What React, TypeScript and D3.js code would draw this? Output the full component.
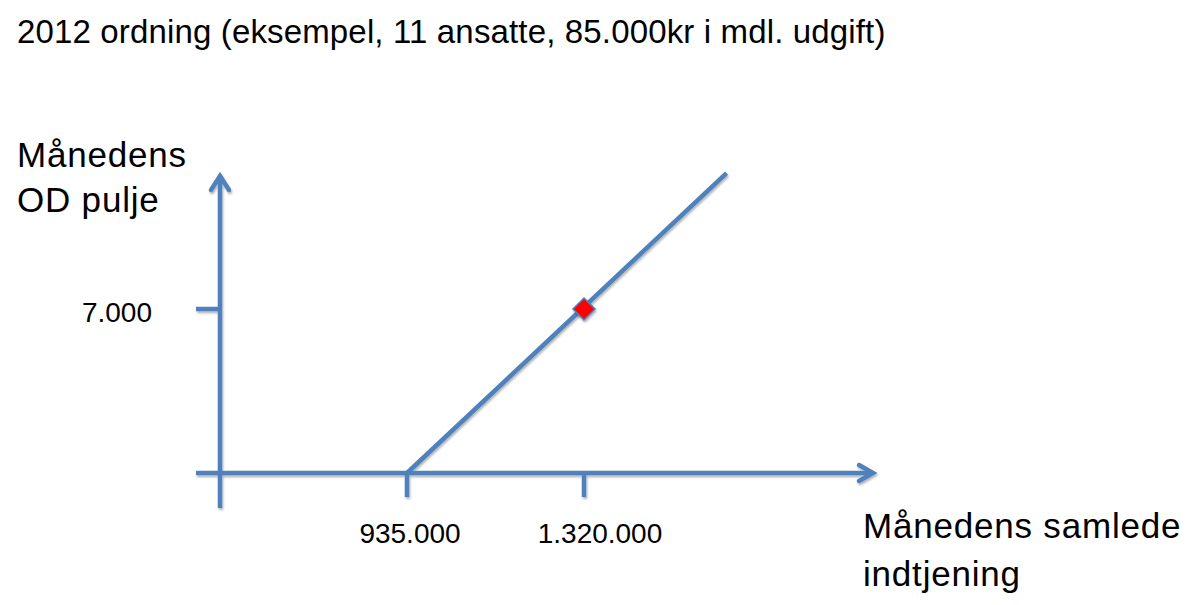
import React from "react";
import * as d3 from "d3";

// ---- data ----
const title = "2012 ordning (eksempel, 11 ansatte, 85.000kr i mdl. udgift)";
const yTitleLines = ["Månedens", "OD pulje"];
const xTitleLines = ["Månedens samlede", "indtjening"];
const xTickValues = [935000, 1320000];
const yTickValues = [7000];
const linePoints: [number, number][] = [
  [935000, 0],
  [1630000, 12800],
];
const markerPoint: [number, number] = [1320000, 7000];

const fmt = (v: number) => d3.format(",")(v).replace(/,/g, ".");

// ---- layout ----
const W = 1196;
const H = 605;
const BLUE = "#4F81BD";
const FONT = "'Liberation Sans', Arial, Helvetica, sans-serif";

export default function App() {
  const x = d3.scaleLinear().domain([935000, 1320000]).range([407, 584]);
  const y = d3.scaleLinear().domain([0, 7000]).range([473, 309]);

  const axisX = 220; // y-axis horizontal position
  const axisY = y(0);
  const xLeft = 196;
  const xRight = 875;
  const yTop = 174;
  const yBottom = 508;
  const tickLen = 24;
  const xTickLabelDx = [3, 16];

  const line = d3
    .line<[number, number]>()
    .x((d) => x(d[0]))
    .y((d) => y(d[1]));

  const mx = x(markerPoint[0]);
  const my = y(markerPoint[1]);
  const r = 11;

  return (
    <svg
      width={W}
      height={H}
      style={{ position: "absolute", left: 0, top: 0, background: "#fff" }}
      fontFamily={FONT}
    >
      <defs>
        <filter id="sh" x="-10%" y="-10%" width="120%" height="120%">
          <feDropShadow dx="1" dy="2" stdDeviation="1.2" floodColor="#000" floodOpacity="0.3" />
        </filter>
      </defs>
      <rect width={W} height={H} fill="#fff" />
      <text x={17} y={43} fontSize={33} letterSpacing={0.15} fill="#000">
        {title}
      </text>

      {yTitleLines.map((t, i) => (
        <text key={t} x={17} y={167 + i * 45} fontSize={35} letterSpacing={0.8} fill="#000">
          {t}
        </text>
      ))}
      {xTitleLines.map((t, i) => (
        <text key={t} x={863} y={538 + i * 48} fontSize={35} letterSpacing={0.8} fill="#000">
          {t}
        </text>
      ))}

      <g filter="url(#sh)" stroke={BLUE} strokeWidth={4.5} fill="none" strokeLinecap="butt">
        {/* y axis */}
        <line x1={axisX} y1={yBottom} x2={axisX} y2={yTop + 2} />
        <polyline
          points={`${axisX - 9},${yTop + 16} ${axisX},${yTop + 2} ${axisX + 9},${yTop + 16}`}
          strokeLinejoin="miter"
          strokeLinecap="round"
        />
        {/* x axis */}
        <line x1={xLeft} y1={axisY} x2={xRight - 2} y2={axisY} />
        <polyline
          points={`${xRight - 16},${axisY - 8} ${xRight - 2},${axisY} ${xRight - 16},${axisY + 8}`}
          strokeLinejoin="miter"
          strokeLinecap="round"
        />
        {/* ticks */}
        {yTickValues.map((v) => (
          <line key={v} x1={axisX - tickLen} y1={y(v)} x2={axisX} y2={y(v)} />
        ))}
        {xTickValues.map((v) => (
          <line key={v} x1={x(v)} y1={axisY} x2={x(v)} y2={axisY + tickLen} />
        ))}
        {/* data line */}
        <path d={line(linePoints) || ""} />
      </g>

      {yTickValues.map((v) => (
        <text key={v} x={152} y={y(v) + 13} fontSize={28} textAnchor="end" fill="#000">
          {fmt(v)}
        </text>
      ))}
      {xTickValues.map((v, i) => (
        <text
          key={v}
          x={x(v) + xTickLabelDx[i]}
          y={543}
          fontSize={28}
          textAnchor="middle"
          fill="#000"
        >
          {fmt(v)}
        </text>
      ))}

      <path
        d={`M${mx},${my - r} L${mx + r},${my} L${mx},${my + r} L${mx - r},${my} Z`}
        fill="#FF0000"
        stroke={BLUE}
        strokeWidth={1.5}
        filter="url(#sh)"
      />
    </svg>
  );
}
